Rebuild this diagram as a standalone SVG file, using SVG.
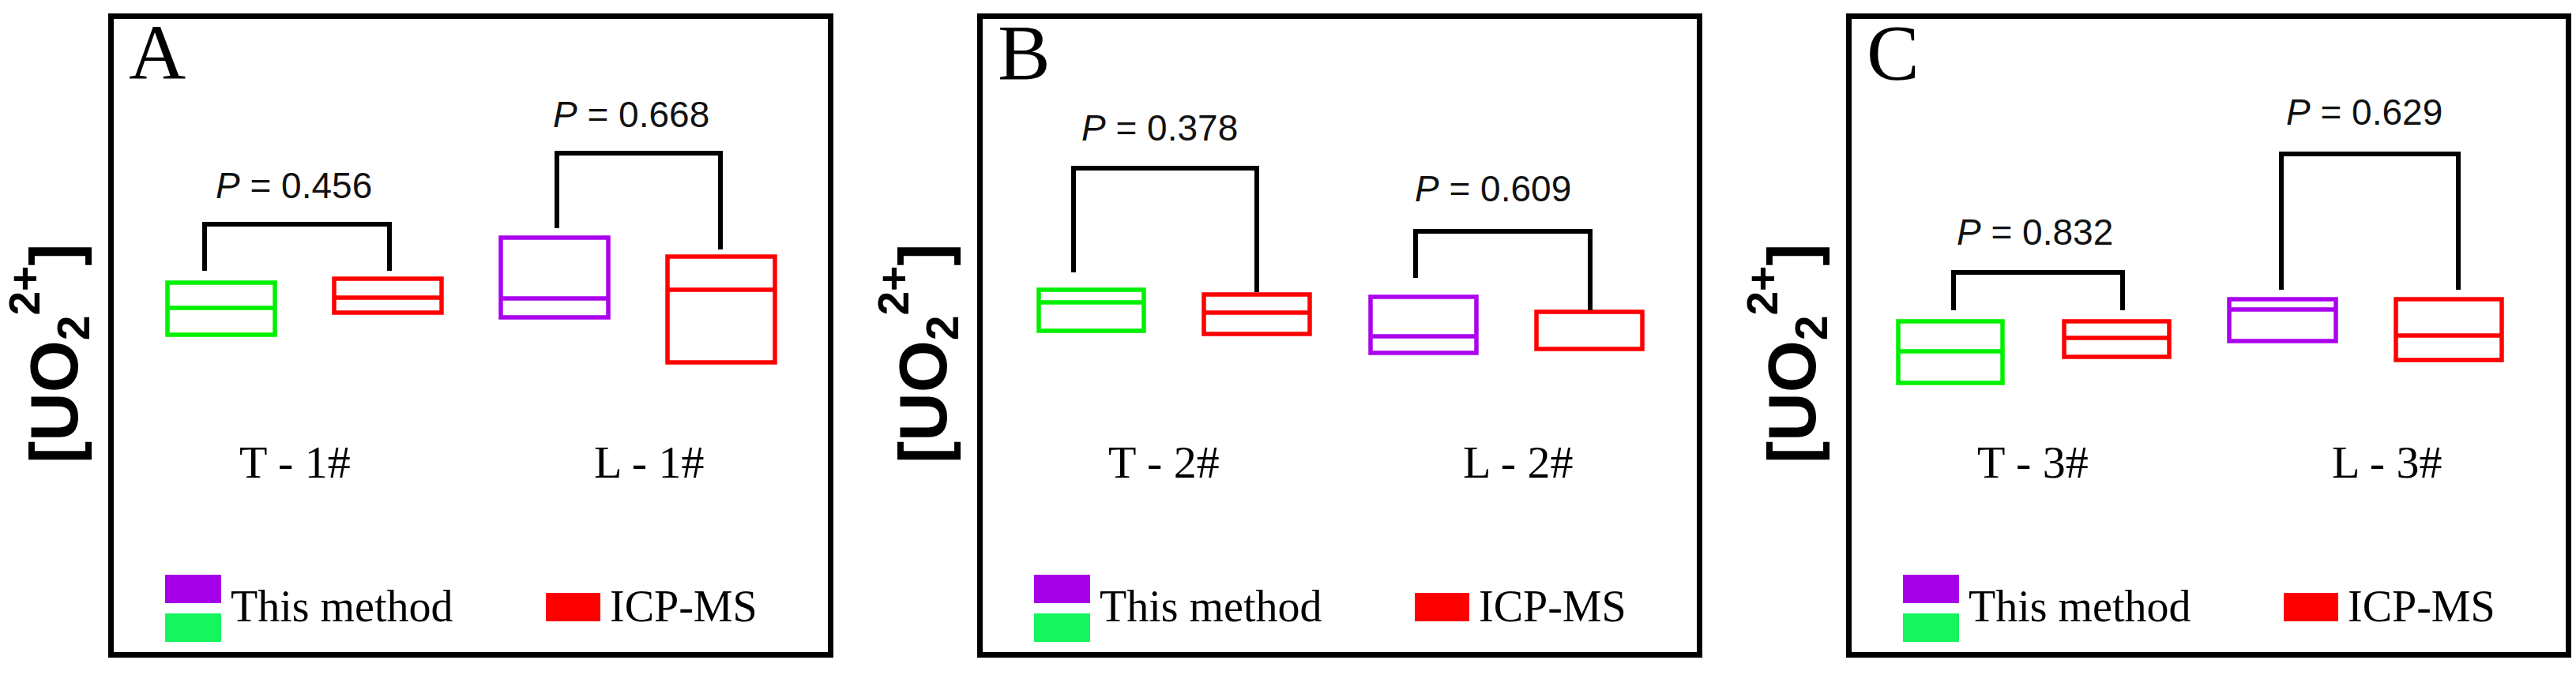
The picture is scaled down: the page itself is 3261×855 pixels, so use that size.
<svg xmlns="http://www.w3.org/2000/svg" width="3261" height="855" viewBox="0 0 3261 855">
<style>
.frame{fill:none;stroke:#000;stroke-width:7}
.br{fill:none;stroke:#000;stroke-width:6}
.bx{fill:none;stroke-width:5.5}
.g{stroke:#00f000}.r{stroke:#ff0000}.p{stroke:#aa00ee}
.pv{font-family:"Liberation Sans",Arial,sans-serif;font-size:46px;fill:#111}
.ser{font-family:"Liberation Serif","Times New Roman",serif;fill:#000}
.lab{font-size:100px}.xl{font-size:58px}.lg{font-size:56px}
.yl{font-family:"Liberation Sans",Arial,sans-serif;font-weight:bold;font-size:85px;fill:#000}
</style>
<rect width="3261" height="855" fill="#fff"/>
<g id="ylabels">
<text class="yl" transform="translate(98,587) rotate(-90)">[UO<tspan font-size="57" dy="15">2</tspan><tspan font-size="55" dy="-63">2+</tspan><tspan dy="48">]</tspan></text>
<text class="yl" transform="translate(1198,587) rotate(-90)">[UO<tspan font-size="57" dy="15">2</tspan><tspan font-size="55" dy="-63">2+</tspan><tspan dy="48">]</tspan></text>
<text class="yl" transform="translate(2298,587) rotate(-90)">[UO<tspan font-size="57" dy="15">2</tspan><tspan font-size="55" dy="-63">2+</tspan><tspan dy="48">]</tspan></text>
</g>
<g id="panelA">
<rect class="frame" x="140.5" y="20.5" width="911" height="809"/>
<text class="ser lab" x="163" y="100">A</text>
<text class="ser xl" x="303" y="605">T - 1#</text>
<text class="ser xl" x="752" y="605">L - 1#</text>
<rect class="bx g" x="212" y="358" width="136" height="66"/><line class="bx g" x1="212" y1="390" x2="348" y2="390"/>
<rect class="bx r" x="423" y="353" width="136" height="43"/><line class="bx r" x1="423" y1="377" x2="559" y2="377"/>
<rect class="bx p" x="634" y="301" width="136" height="101"/><line class="bx p" x1="634" y1="378" x2="770" y2="378"/>
<rect class="bx r" x="845" y="325" width="136" height="134"/><line class="bx r" x1="845" y1="367" x2="981" y2="367"/>
<text class="pv" x="273" y="251"><tspan font-style="italic">P</tspan> = 0.456</text>
<text class="pv" x="700" y="161"><tspan font-style="italic">P</tspan> = 0.668</text>
<rect x="209" y="728" width="71" height="36" fill="#a600e8"/><rect x="209" y="777" width="71" height="36" fill="#14f55e"/>
<text class="ser lg" x="292" y="787">This method</text>
<rect x="691" y="751" width="69" height="36" fill="#ff0000"/>
<text class="ser lg" x="772" y="787">ICP-MS</text>
</g>
<g id="panelB">
<rect class="frame" x="1240.5" y="20.5" width="911" height="809"/>
<text class="ser lab" x="1263" y="100">B</text>
<text class="ser xl" x="1403" y="605">T - 2#</text>
<text class="ser xl" x="1852" y="605">L - 2#</text>
<rect class="bx g" x="1315" y="367" width="133" height="52"/><line class="bx g" x1="1315" y1="383" x2="1448" y2="383"/>
<rect class="bx r" x="1524" y="373" width="134" height="50"/><line class="bx r" x1="1524" y1="396" x2="1658" y2="396"/>
<rect class="bx p" x="1735" y="376" width="134" height="71"/><line class="bx p" x1="1735" y1="426" x2="1869" y2="426"/>
<rect class="bx r" x="1945" y="395" width="134" height="47"/>
<text class="pv" x="1369" y="178"><tspan font-style="italic">P</tspan> = 0.378</text>
<text class="pv" x="1791" y="255"><tspan font-style="italic">P</tspan> = 0.609</text>
<rect x="1309" y="728" width="71" height="36" fill="#a600e8"/><rect x="1309" y="777" width="71" height="36" fill="#14f55e"/>
<text class="ser lg" x="1392" y="787">This method</text>
<rect x="1791" y="751" width="69" height="36" fill="#ff0000"/>
<text class="ser lg" x="1872" y="787">ICP-MS</text>
</g>
<g id="panelC">
<rect class="frame" x="2340.5" y="20.5" width="911" height="809"/>
<text class="ser lab" x="2363" y="100">C</text>
<text class="ser xl" x="2503" y="605">T - 3#</text>
<text class="ser xl" x="2952" y="605">L - 3#</text>
<rect class="bx g" x="2403" y="407" width="132" height="78"/><line class="bx g" x1="2403" y1="445" x2="2535" y2="445"/>
<rect class="bx r" x="2613" y="407" width="133" height="45"/><line class="bx r" x1="2613" y1="428" x2="2746" y2="428"/>
<rect class="bx p" x="2822" y="379" width="135" height="53"/><line class="bx p" x1="2822" y1="392" x2="2957" y2="392"/>
<rect class="bx r" x="3033" y="379" width="134" height="77"/><line class="bx r" x1="3033" y1="425" x2="3167" y2="425"/>
<text class="pv" x="2477" y="310"><tspan font-style="italic">P</tspan> = 0.832</text>
<text class="pv" x="2894" y="158"><tspan font-style="italic">P</tspan> = 0.629</text>
<rect x="2409" y="728" width="71" height="36" fill="#a600e8"/><rect x="2409" y="777" width="71" height="36" fill="#14f55e"/>
<text class="ser lg" x="2492" y="787">This method</text>
<rect x="2891" y="751" width="69" height="36" fill="#ff0000"/>
<text class="ser lg" x="2972" y="787">ICP-MS</text>
</g>
<g id="connectors">
<polyline class="br" points="259,343 259,284 493,284 493,343"/>
<polyline class="br" points="705,289 705,194 912,194 912,316"/>
<polyline class="br" points="1359,345 1359,213 1591,213 1591,370"/>
<polyline class="br" points="1792,352 1792,293 2013,293 2013,393"/>
<polyline class="br" points="2473,393 2473,345 2687,345 2687,393"/>
<polyline class="br" points="2888,367 2888,195 3112,195 3112,367"/>
</g>
</svg>
